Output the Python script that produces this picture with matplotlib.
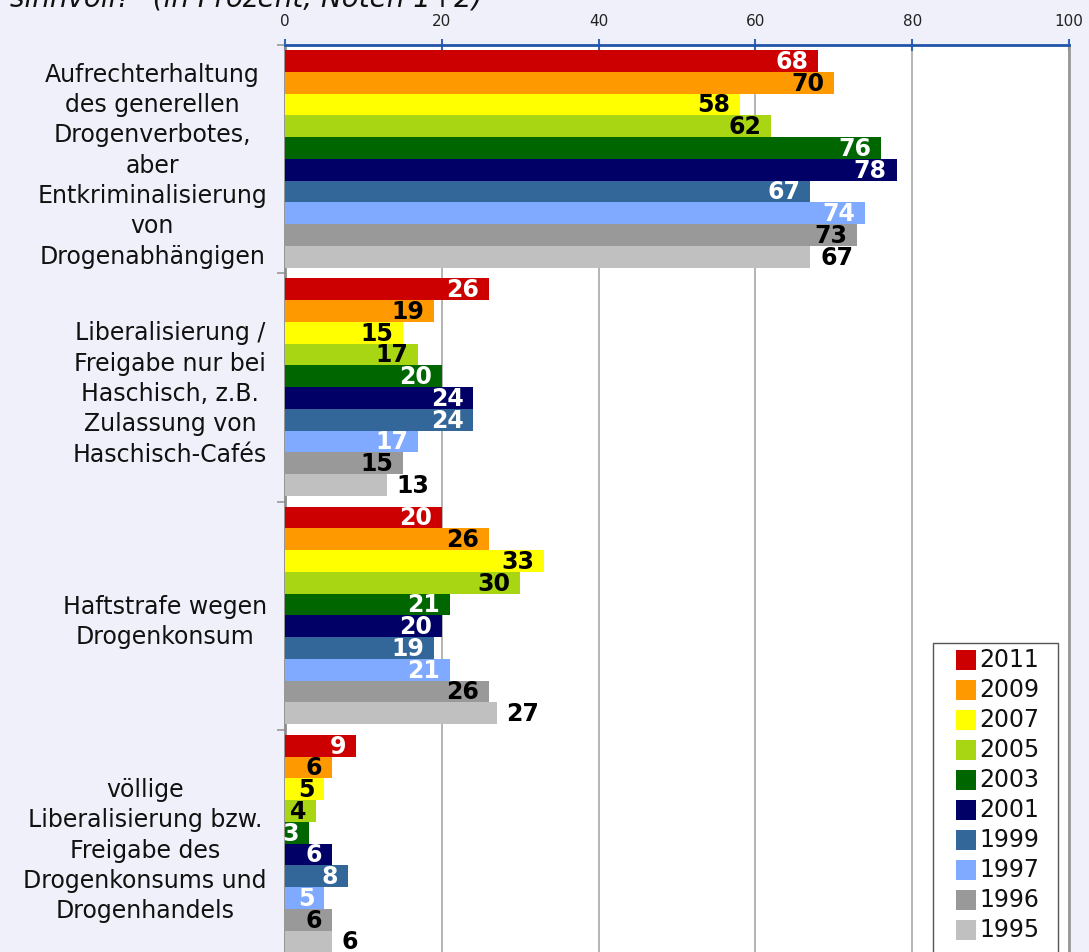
import matplotlib
matplotlib.use('Agg')
import matplotlib.pyplot as plt
from matplotlib.patches import Rectangle
import numpy as np

categories = [
    "Aufrechterhaltung\ndes generellen\nDrogenverbotes,\naber\nEntkriminalisierung\nvon\nDrogenabhängigen",
    "Liberalisierung /\nFreigabe nur bei\nHaschisch, z.B.\nZulassung von\nHaschisch-Cafés",
    "Haftstrafe wegen\nDrogenkonsum",
    "völlige\nLiberalisierung bzw.\nFreigabe des\nDrogenkonsums und\nDrogenhandels",
]
years = ["2011", "2009", "2007", "2005", "2003", "2001", "1999", "1997", "1996", "1995"]
v2011 = [68, 26, 20, 9]
v2009 = [70, 19, 26, 6]
v2007 = [58, 15, 33, 5]
v2005 = [62, 17, 30, 4]
v2003 = [76, 20, 21, 3]
v2001 = [78, 24, 20, 6]
v1999 = [67, 24, 19, 8]
v1997 = [74, 17, 21, 5]
v1996 = [73, 15, 26, 6]
v1995 = [67, 13, 27, 6]
series = [v2011, v2009, v2007, v2005, v2003, v2001, v1999, v1997, v1996, v1995]
xticks = [0, 20, 40, 60, 80, 100]
title = 'sinnvoll?" (in Prozent, Noten 1+2)'

colors = ["#cc0000", "#ff9900", "#ffff00", "#a8d612", "#006600",
          "#000066", "#336699", "#80aaff", "#999999", "#c0c0c0"]
txtcolors = ["white", "black", "black", "black", "white",
             "white", "white", "white", "black", "black"]

W, H = 1089, 953
BG = "#f0f0fa"
fig = plt.figure(figsize=(W / 100, H / 100), dpi=100, facecolor=BG)
ax = fig.add_axes([285 / W, 1 - 959 / H, (1069 - 285) / W, 913 / H])
ax.set_facecolor("white")
ax.set_xlim(0, 100)
ax.set_ylim(4, 0)

cat_px = 228.25
bar_h = 21.75 / cat_px
off = 5 / cat_px
pos = np.arange(len(categories))
for j, (yr, vals) in enumerate(zip(years, series)):
    y = pos + off + j * bar_h
    ax.barh(y, vals, height=bar_h, align="edge", color=colors[j], zorder=3)
    for yy, v in zip(y, vals):
        if j == len(years) - 1:
            ax.annotate(str(v), (v, yy + bar_h / 2), xytext=(7, 0), textcoords="offset points",
                        ha="left", va="center", fontsize=17, fontweight="bold",
                        color="black", zorder=4)
        else:
            ax.annotate(str(v), (v, yy + bar_h / 2), xytext=(-7, 0), textcoords="offset points",
                        ha="right", va="center", fontsize=17, fontweight="bold",
                        color=txtcolors[j], zorder=4)

ax.xaxis.tick_top()
ax.set_xticks(xticks)
ax.set_xticklabels([str(t) for t in xticks])
ax.tick_params(axis="x", direction="inout", length=8, width=1.5, color="#3366bb",
               pad=8, labelsize=11, labelcolor="#222222")
ax.set_yticks(np.arange(len(categories) + 1))
ax.set_yticklabels([])
ax.tick_params(axis="y", which="major", direction="out", length=6, width=1.2, color="#999999")
ax.set_yticks(pos + 0.5, minor=True)
ax.set_yticklabels(categories, minor=True, fontsize=17, linespacing=1.33, color="#111111")
ax.tick_params(axis="y", which="minor", length=0, pad=13)
for lbl in ax.get_yticklabels(minor=True):
    lbl.set_multialignment("center")

ax.grid(axis="x", color="#b4b4b4", lw=1.4, zorder=0)
ax.set_axisbelow(True)
ax.spines["top"].set_color("#2255aa")
ax.spines["top"].set_linewidth(2)
ax.spines["left"].set_color("#8c8c8c")
ax.spines["left"].set_linewidth(2)
ax.spines["right"].set_color("#999999")
ax.spines["right"].set_linewidth(2)
ax.spines["bottom"].set_visible(False)

# legend (drawn manually in figure pixel coordinates)
def fx(px):
    return px / W

def fy(py):
    return 1 - py / H

fig.patches.append(Rectangle((fx(933), fy(965)), fx(1058) - fx(933), fy(644) - fy(965),
                             transform=fig.transFigure, facecolor="white",
                             edgecolor="#555555", lw=1, zorder=5))
for i, (yr, c) in enumerate(zip(years, colors)):
    cy = 661 + 30 * i
    fig.patches.append(Rectangle((fx(956), fy(cy + 10)), fx(976) - fx(956), fy(cy - 10) - fy(cy + 10),
                                 transform=fig.transFigure, facecolor=c, edgecolor="none", zorder=6))
    fig.text(fx(979), fy(cy - 1), yr, fontsize=17, va="center", ha="left", color="#111111", zorder=7)

fig.text(fx(10), fy(6), title, fontsize=20, style="italic", va="baseline", ha="left", color="#111111")

fig.savefig("out.png", dpi=100, facecolor=BG)
